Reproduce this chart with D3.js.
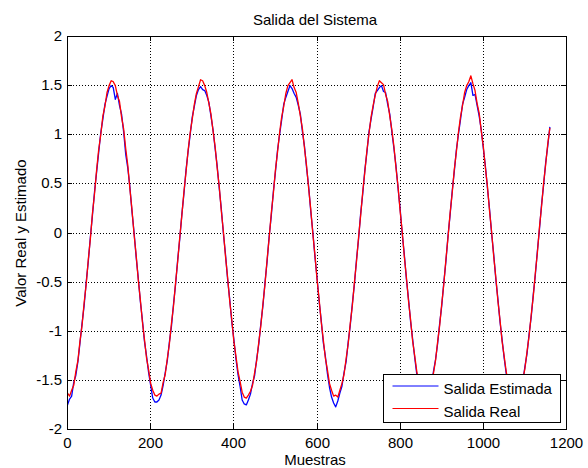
<!DOCTYPE html>
<html>
<head>
<meta charset="utf-8">
<script src="https://cdn.jsdelivr.net/npm/d3@7"></script>
<style>
body { margin: 0; background: #fff; }
text { font-family: "Liberation Sans", Arial, sans-serif; }
</style>
</head>
<body>
<div id="chart"></div>
<script>
// una muestra cada 5
const paso = 5;

const salidaReal = [
  -1.63,-1.66,-1.60,-1.55,-1.41,-1.30,-1.10,-0.94,-0.71,-0.52,
  -0.27,-0.06,0.20,0.40,0.64,0.85,1.00,1.19,1.29,1.43,
  1.50,1.55,1.54,1.50,1.40,1.34,1.18,1.06,0.86,0.69,
  0.45,0.24,-0.01,-0.22,-0.47,-0.67,-0.90,-1.08,-1.27,-1.39,
  -1.53,-1.60,-1.65,
  -1.66,-1.64,-1.63,-1.52,-1.44,-1.28,-1.13,-0.92,-0.74,-0.50,
  -0.29,-0.04,0.18,0.42,0.62,0.84,1.02,1.16,1.31,1.42,
  1.49,1.56,1.55,1.50,1.43,1.32,1.21,1.04,0.88,0.66,
  0.47,0.22,0.01,-0.24,-0.45,-0.69,-0.88,-1.10,-1.25,-1.41,
  -1.51,-1.62,-1.67,
  -1.68,-1.65,-1.61,-1.55,-1.42,-1.30,-1.11,-0.94,-0.72,-0.52,
  -0.27,-0.05,0.20,0.40,0.64,0.82,1.02,1.18,1.29,1.42,
  1.50,1.53,1.56,1.48,1.43,1.32,1.19,1.06,0.86,0.68,
  0.45,0.24,-0.01,-0.22,-0.47,-0.67,-0.90,-1.08,-1.27,-1.39,
  -1.53,-1.60,-1.66,
  -1.65,-1.67,-1.60,-1.53,-1.44,-1.28,-1.13,-0.92,-0.74,-0.50,
  -0.29,-0.04,0.18,0.42,0.62,0.84,1.01,1.18,1.30,1.40,
  1.49,1.55,1.53,1.51,1.41,1.34,1.19,1.05,0.88,0.66,
  0.47,0.22,0.01,-0.24,-0.45,-0.69,-0.88,-1.10,-1.25,-1.41,
  -1.52,-1.62,-1.67,
  -1.67,-1.64,-1.62,-1.53,-1.43,-1.30,-1.11,-0.94,-0.72,-0.52,
  -0.27,-0.05,0.20,0.40,0.64,0.82,1.02,1.18,1.30,1.43,
  1.50,1.54,1.60,1.52,1.45,1.32,1.22,1.04,0.88,0.66,
  0.47,0.22,0.01,-0.24,-0.45,-0.69,-0.88,-1.10,-1.25,-1.41,
  -1.52,-1.62,-1.67,
  -1.66,-1.68,-1.64,-1.60,-1.49,-1.38,-1.21,-1.05,-0.84,-0.65,
  -0.41,-0.20,0.06,0.27,0.51,0.70,0.91,1.07
];

const salidaEstimada = [
  -1.75,-1.69,-1.66,-1.52,-1.45,-1.31,-1.12,-0.92,-0.74,-0.50,
  -0.29,-0.04,0.18,0.42,0.62,0.82,1.02,1.16,1.31,1.39,
  1.47,1.50,1.48,1.36,1.42,1.30,1.21,1.03,0.80,0.66,
  0.47,0.22,0.01,-0.24,-0.45,-0.69,-0.88,-1.10,-1.25,-1.42,
  -1.55,-1.68,-1.72,
  -1.72,-1.70,-1.65,-1.55,-1.42,-1.30,-1.11,-0.95,-0.72,-0.52,
  -0.27,-0.06,0.19,0.40,0.64,0.83,1.00,1.18,1.29,1.40,
  1.46,1.49,1.46,1.45,1.40,1.33,1.19,1.05,0.86,0.68,
  0.45,0.24,-0.01,-0.22,-0.47,-0.67,-0.90,-1.08,-1.28,-1.44,
  -1.56,-1.70,-1.74,
  -1.75,-1.70,-1.64,-1.53,-1.45,-1.28,-1.13,-0.92,-0.74,-0.50,
  -0.29,-0.03,0.17,0.42,0.62,0.84,1.00,1.15,1.31,1.38,
  1.44,1.50,1.47,1.42,1.38,1.30,1.21,1.03,0.88,0.66,
  0.47,0.22,0.01,-0.24,-0.45,-0.69,-0.88,-1.11,-1.25,-1.43,
  -1.57,-1.67,-1.73,
  -1.77,-1.71,-1.63,-1.56,-1.42,-1.31,-1.11,-0.94,-0.72,-0.52,
  -0.27,-0.06,0.20,0.40,0.64,0.82,1.03,1.16,1.28,1.42,
  1.45,1.48,1.50,1.44,1.43,1.31,1.21,1.03,0.86,0.68,
  0.45,0.24,-0.01,-0.22,-0.47,-0.67,-0.90,-1.08,-1.27,-1.44,
  -1.56,-1.69,-1.73,
  -1.74,-1.70,-1.65,-1.55,-1.41,-1.29,-1.13,-0.92,-0.74,-0.50,
  -0.29,-0.03,0.18,0.42,0.62,0.84,1.00,1.15,1.31,1.38,
  1.46,1.50,1.53,1.40,1.41,1.30,1.19,1.05,0.86,0.68,
  0.45,0.24,-0.01,-0.22,-0.47,-0.67,-0.90,-1.08,-1.27,-1.43,
  -1.56,-1.68,-1.73,
  -1.73,-1.71,-1.66,-1.58,-1.51,-1.36,-1.23,-1.03,-0.86,-0.63,
  -0.43,-0.18,0.04,0.29,0.49,0.72,0.89,1.08
];

const xTicks = [0, 200, 400, 600, 800, 1000, 1200];
const xTickLabels = ['0', '200', '400', '600', '800', '1000', '1200'];
const yTicks = [-2, -1.5, -1, -0.5, 0, 0.5, 1, 1.5, 2];
const yTickLabels = ['-2', '-1.5', '-1', '-0.5', '0', '0.5', '1', '1.5', '2'];
const series = ['Salida Estimada', 'Salida Real'];
const colors = ['#0000ff', '#ff0000'];

const W = 588, H = 468;
const izq = 67, der = 566, arr = 36, abj = 429;
const fuente = 15;

var svg = d3.select('#chart').append('svg')
    .attr('width', W)
    .attr('height', H);
svg.append('rect').attr('width', W).attr('height', H).attr('fill', '#fff');

var x = d3.scaleLinear().domain([0, 1200]).range([izq + .5, der + .5]);
var y = d3.scaleLinear().domain([-2, 2]).range([abj + .5, arr + .5]);
// escalas redondeadas para rejilla y ticks
var xa = d3.scaleLinear().domain(x.domain()).rangeRound([izq, der]);
var ya = d3.scaleLinear().domain(y.domain()).rangeRound([abj, arr]);

// rejilla
svg.append('g')
    .attr('transform', 'translate(0,' + arr + ')')
    .call(d3.axisBottom(xa).tickValues(xTicks).tickSize(abj - arr).tickFormat(''))
    .call(g => g.select('.domain').remove())
    .selectAll('line').attr('stroke-dasharray', '1,2');
svg.append('g')
    .attr('transform', 'translate(' + izq + ',0)')
    .call(d3.axisRight(ya).tickValues(yTicks).tickSize(der - izq).tickFormat(''))
    .call(g => g.select('.domain').remove())
    .selectAll('line').attr('stroke-dasharray', '1,2');

// curvas
var line = d3.line()
    .x((d, i) => x(i * paso))
    .y(d => y(d));
[salidaEstimada, salidaReal].forEach(function (d, k) {
    svg.append('path')
        .datum(d)
        .attr('fill', 'none')
        .attr('stroke', colors[k])
        .attr('stroke-width', 1.3)
        .attr('stroke-linejoin', 'round')
        .attr('d', line);
});

// caja
svg.append('rect')
    .attr('x', izq + .5).attr('y', arr + .5)
    .attr('width', der - izq).attr('height', abj - arr)
    .attr('fill', 'none').attr('stroke', '#000');

function estilo(g) {
    g.select('.domain').remove();
    g.attr('font-size', fuente).attr('font-family', '"Liberation Sans", Arial, sans-serif');
}
svg.append('g')
    .attr('transform', 'translate(0,' + abj + ')')
    .call(d3.axisBottom(xa).tickValues(xTicks).tickSizeInner(-5).tickSizeOuter(0)
        .tickPadding(8).tickFormat((d, i) => xTickLabels[i]))
    .call(estilo);
svg.append('g')
    .attr('transform', 'translate(0,' + arr + ')')
    .call(d3.axisTop(xa).tickValues(xTicks).tickSizeInner(-5).tickSizeOuter(0).tickFormat(''))
    .call(estilo);
svg.append('g')
    .attr('transform', 'translate(' + izq + ',0)')
    .call(d3.axisLeft(ya).tickValues(yTicks).tickSizeInner(-5).tickSizeOuter(0)
        .tickPadding(5).tickFormat((d, i) => yTickLabels[i]))
    .call(estilo);
svg.append('g')
    .attr('transform', 'translate(' + der + ',0)')
    .call(d3.axisRight(ya).tickValues(yTicks).tickSizeInner(-5).tickSizeOuter(0).tickFormat(''))
    .call(estilo);

// textos
svg.append('text')
    .attr('x', 315).attr('y', 25)
    .attr('text-anchor', 'middle')
    .attr('font-size', fuente)
    .text('Salida del Sistema');
svg.append('text')
    .attr('x', 315).attr('y', 465)
    .attr('text-anchor', 'middle')
    .attr('font-size', fuente)
    .text('Muestras');
svg.append('text')
    .attr('transform', 'translate(26,233) rotate(-90)')
    .attr('text-anchor', 'middle')
    .attr('font-size', fuente)
    .text('Valor Real y Estimado');

// leyenda
var ley = svg.append('g').attr('transform', 'translate(383.5,374.5)');
ley.append('rect')
    .attr('width', 177).attr('height', 48)
    .attr('fill', '#fff').attr('stroke', '#000');
var it = ley.selectAll('g.item').data(series).enter().append('g')
    .classed('item', true)
    .attr('transform', (d, i) => 'translate(0,' + (11.5 + i * 22.5) + ')');
it.append('line')
    .attr('x1', 9).attr('x2', 55)
    .attr('stroke', (d, i) => colors[i]);
it.append('text')
    .attr('x', 60).attr('y', 8)
    .attr('font-size', fuente)
    .text(d => d);
</script>
</body>
</html>
